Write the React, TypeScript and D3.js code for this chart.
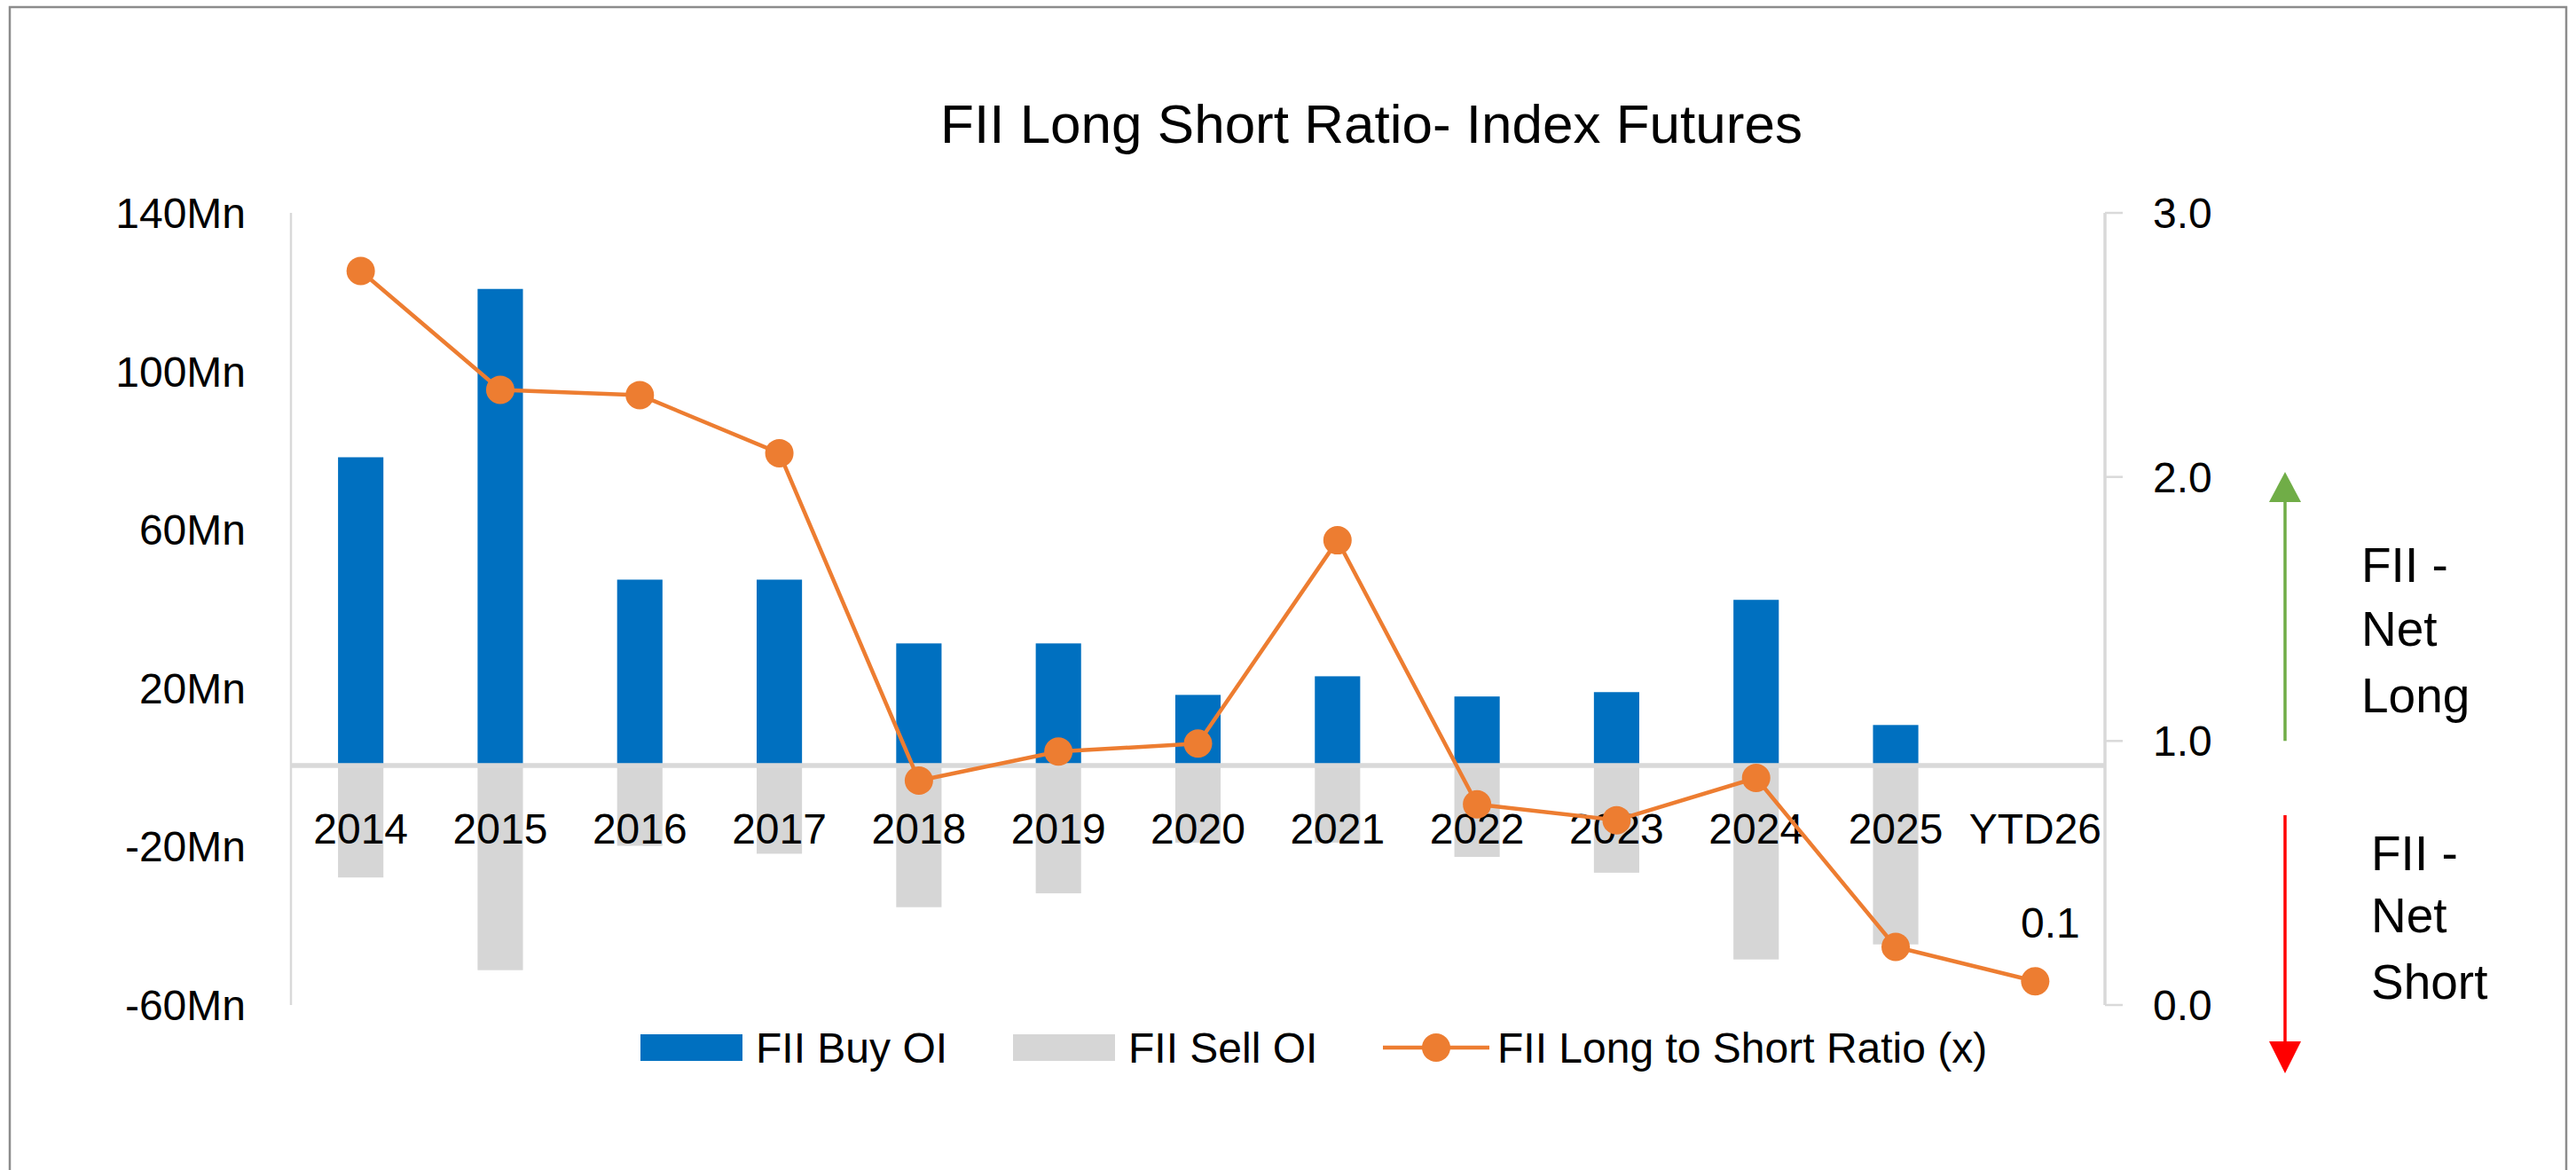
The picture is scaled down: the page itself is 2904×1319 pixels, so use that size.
import * as d3 from 'd3';

// Chart data
const categories = ['2014', '2015', '2016', '2017', '2018', '2019', '2020', '2021', '2022', '2023', '2024', '2025', 'YTD26'];
const buyOI = [78.3, 120.8, 47.4, 47.4, 31.3, 31.3, 18.3, 23.0, 17.9, 19.0, 42.3, 10.7, 0];
const sellOI = [-27.8, -51.2, -19.8, -21.8, -35.3, -31.8, -19.0, -19.0, -22.6, -26.6, -48.5, -44.7, 0];
const ratio = [2.78, 2.33, 2.31, 2.09, 0.85, 0.96, 0.99, 1.76, 0.76, 0.70, 0.86, 0.22, 0.09];
const leftTicks = [-60, -20, 20, 60, 100, 140];
const rightTicks = [0, 1, 2, 3];

const W = 2904;
const H = 1319;
const FONT = '"Liberation Sans", Arial, sans-serif';
const BLUE = '#0070c0';
const GREY = '#d6d6d6';
const ORANGE = '#ed7d31';
const AXIS = '#d9d9d9';

const plot = { left: 328, right: 2373, top: 240, bottom: 1133 };

export default function App() {
  const x = d3.scaleBand<string>()
    .domain(categories)
    .range([plot.left, plot.right])
    .paddingInner(0.675)
    .paddingOuter(0.3375);

  const yL = d3.scaleLinear().domain([-60, 140]).range([plot.bottom, plot.top]);
  const yR = d3.scaleLinear().domain([0, 3]).range([plot.bottom, plot.top]);

  const cx = (c: string) => (x(c) as number) + x.bandwidth() / 2;

  const line = d3.line<number>()
    .x((_, i) => cx(categories[i]))
    .y(d => yR(d));

  const y0 = yL(0);
  const lastIdx = categories.length - 1;

  return (
    <svg
      width={W}
      height={H}
      style={{ position: 'absolute', left: 0, top: 0, display: 'block', background: '#fff' }}
      fontFamily={FONT}
    >
      {/* outer frame */}
      <rect x={11} y={8} width={2882} height={1330} fill="#fff" stroke="#8c8c8c" strokeWidth={2.5} />

      {/* title */}
      <text x={1546} y={161} textAnchor="middle" fontSize={62} fill="#000">
        FII Long Short Ratio- Index Futures
      </text>

      {/* bars */}
      {categories.map((c, i) => (
        <g key={c}>
          {buyOI[i] > 0 && (
            <rect x={x(c)} y={yL(buyOI[i])} width={x.bandwidth()} height={y0 - yL(buyOI[i])} fill={BLUE} />
          )}
          {sellOI[i] < 0 && (
            <rect x={x(c)} y={y0} width={x.bandwidth()} height={yL(sellOI[i]) - y0} fill={GREY} />
          )}
        </g>
      ))}

      {/* left axis */}
      <line x1={plot.left} x2={plot.left} y1={plot.top} y2={plot.bottom} stroke={AXIS} strokeWidth={2.5} />
      {leftTicks.map(t => (
        <text key={t} x={277} y={yL(t) + 17} textAnchor="end" fontSize={48} fill="#000">
          {`${t}Mn`}
        </text>
      ))}

      {/* right axis */}
      <line x1={plot.right} x2={plot.right} y1={plot.top} y2={plot.bottom} stroke={AXIS} strokeWidth={3.5} />
      {rightTicks.map(t => (
        <g key={t}>
          <line x1={plot.right} x2={plot.right + 20} y1={yR(t)} y2={yR(t)} stroke={AXIS} strokeWidth={2.5} />
          <text x={2427} y={yR(t) + 17} fontSize={48} fill="#000">
            {d3.format('.1f')(t)}
          </text>
        </g>
      ))}

      {/* zero line */}
      <line x1={plot.left} x2={plot.right} y1={y0 - 2} y2={y0 - 2} stroke={AXIS} strokeWidth={5.5} />

      {/* category labels */}
      {categories.map(c => (
        <text key={c} x={cx(c)} y={951} textAnchor="middle" fontSize={48} fill="#000">
          {c}
        </text>
      ))}

      {/* ratio line */}
      <path d={line(ratio) ?? ''} fill="none" stroke={ORANGE} strokeWidth={4.5} strokeLinejoin="round" />
      {ratio.map((r, i) => (
        <circle key={i} cx={cx(categories[i])} cy={yR(r)} r={16} fill={ORANGE} />
      ))}
      <text
        x={cx(categories[lastIdx]) + 17}
        y={yR(ratio[lastIdx]) - 49}
        textAnchor="middle"
        fontSize={48}
        fill="#000"
      >
        {d3.format('.1f')(ratio[lastIdx])}
      </text>

      {/* net long / net short annotations */}
      <line x1={2576} x2={2576} y1={yR(1)} y2={560} stroke="#70ad47" strokeWidth={3.5} />
      <polygon points="2558,566 2594,566 2576,532" fill="#70ad47" />
      <text fontSize={55} fill="#000">
        <tspan x={2662} y={656}>FII -</tspan>
        <tspan x={2662} y={728}>Net</tspan>
        <tspan x={2662} y={803}>Long</tspan>
      </text>

      <line x1={2576} x2={2576} y1={919} y2={1180} stroke="#ff0000" strokeWidth={3.5} />
      <polygon points="2558,1174 2594,1174 2576,1210" fill="#ff0000" />
      <text fontSize={55} fill="#000">
        <tspan x={2673} y={981}>FII -</tspan>
        <tspan x={2673} y={1051}>Net</tspan>
        <tspan x={2673} y={1126}>Short</tspan>
      </text>

      {/* legend */}
      <rect x={722} y={1166} width={115} height={30} fill={BLUE} />
      <text x={852} y={1198} fontSize={48} fill="#000">FII Buy OI</text>
      <rect x={1142} y={1166} width={115} height={30} fill={GREY} />
      <text x={1272} y={1198} fontSize={48} fill="#000">FII Sell OI</text>
      <line x1={1559} x2={1679} y1={1181} y2={1181} stroke={ORANGE} strokeWidth={4.5} />
      <circle cx={1619} cy={1181} r={16} fill={ORANGE} />
      <text x={1688} y={1198} fontSize={48} fill="#000">FII Long to Short Ratio (x)</text>
    </svg>
  );
}
